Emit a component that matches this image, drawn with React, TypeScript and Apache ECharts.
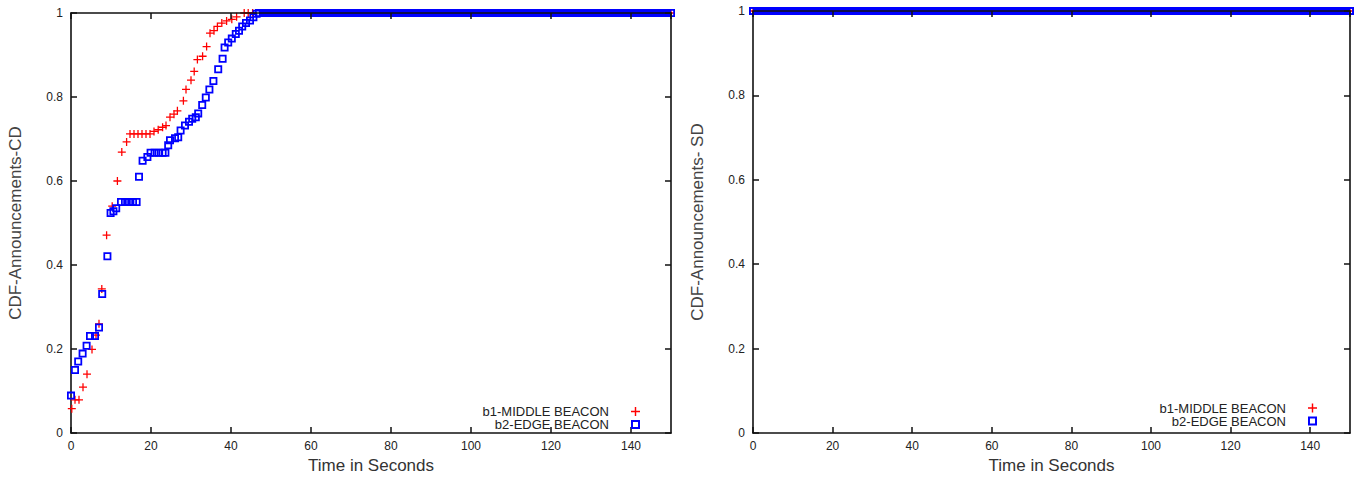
import React, { useEffect, useRef } from "react";
import * as echarts from "echarts";

// ---- tick labels ----
const xTickLabels = ["0", "20", "40", "60", "80", "100", "120", "140"];
const yTickLabels = ["0", "0.2", "0.4", "0.6", "0.8", "1"];

// ---- series names ----
const seriesNames = ["b1-MIDDLE BEACON", "b2-EDGE BEACON"];

// ---- left plot (CD) : b1 middle beacon ----
const cdB1Times = [0.2, 1, 2, 3, 4, 5.25, 6.25, 7, 7.7, 8.9, 10.3, 11.6, 12.7, 13.9, 14.75, 15.75, 16.75, 17.75, 18.75, 19.75, 20.75, 21.8, 22.9, 23.75, 24.75, 25.75, 26.6, 28.1, 28.75, 30, 30.8, 31.6, 32.9, 33.9, 34.75, 35.75, 36.6, 37.7, 38.9, 40.2, 41.4, 43.3, 44.3, 45.4, 150];
const cdB1Values = [0.058, 0.079, 0.079, 0.109, 0.14, 0.199, 0.233, 0.26, 0.343, 0.471, 0.54, 0.6, 0.669, 0.693, 0.712, 0.712, 0.712, 0.712, 0.712, 0.712, 0.718, 0.722, 0.728, 0.732, 0.752, 0.759, 0.767, 0.791, 0.818, 0.84, 0.861, 0.889, 0.897, 0.92, 0.952, 0.958, 0.968, 0.976, 0.981, 0.985, 0.991, 1, 1, 1, 1];

// ---- left plot (CD) : b2 edge beacon ----
const cdB2Times = [0, 1, 1.8, 2.9, 3.9, 4.75, 6, 7, 7.8, 9.1, 9.9, 10.6, 11.3, 12.5, 13.5, 14.5, 15.5, 16.4, 17, 17.9, 19.1, 19.9, 20.9, 21.9, 22.9, 23.6, 24.3, 24.75, 26, 26.8, 27.4, 28.5, 29.5, 30.3, 31.2, 31.8, 32.8, 33.7, 34.6, 35.6, 36.8, 37.9, 38.4, 39.3, 40.2, 41.2, 42, 42.8, 43.75, 44.75, 45.6, 46.4];
const cdB2Values = [0.089, 0.15, 0.17, 0.189, 0.208, 0.231, 0.231, 0.251, 0.331, 0.421, 0.524, 0.528, 0.535, 0.55, 0.55, 0.55, 0.55, 0.55, 0.61, 0.648, 0.657, 0.667, 0.667, 0.667, 0.667, 0.667, 0.685, 0.697, 0.702, 0.704, 0.72, 0.732, 0.741, 0.748, 0.752, 0.761, 0.781, 0.799, 0.818, 0.838, 0.866, 0.891, 0.918, 0.93, 0.939, 0.95, 0.958, 0.968, 0.976, 0.982, 0.99, 0.998];
// dense run of b2 samples at CDF = 1 (squares overlap into a solid band)
const cdB2SaturatedTimes = [47, 150];
const cdB2SaturatedValues = [1, 1];

// ---- right plot (SD) ----
const sdB1Times = [0, 150];
const sdB1Values = [1, 1];
const sdB2Times = [0, 150];
const sdB2Values = [1, 1];
const sdB2SaturatedTimes = [0, 150];
const sdB2SaturatedValues = [1, 1];

const zip = (xs: number[], ys: number[]) => xs.map((x, i) => [x, ys[i]]);

const RED = "#ff0000";
const BLUE = "#0000ff";
const FONT = "Liberation Sans, Arial, sans-serif";
const PLUS = "path://M4.2,0h1.6v4.2h4.2v1.6h-4.2v4.2h-1.6v-4.2h-4.2v-1.6h4.2z";
const SQUARE = "path://M0,0h10v10h-10z M2.2,2.2v5.6h5.6v-5.6z";

const xLabelFmt = (v: number) => {
  const i = Math.round(v / 20);
  return xTickLabels[i] ?? "";
};
const yLabelFmt = (v: number) => {
  const i = Math.round(v / 0.2);
  return yTickLabels[i] ?? "";
};

const axisLine = { show: true, onZero: false, lineStyle: { color: "#111", width: 1.6 } };
const axisTick = { show: true, inside: true, length: 6, lineStyle: { color: "#111", width: 1.5 } };

function makeXAxes(gridIndex: number) {
  return [
    {
      type: "value",
      gridIndex,
      position: "bottom",
      min: 0,
      max: 150,
      interval: 20,
      axisLine,
      axisTick,
      splitLine: { show: false },
      axisLabel: { formatter: xLabelFmt, showMaxLabel: false, color: "#222", fontSize: 12, fontFamily: FONT, margin: 7 },
      name: "Time in Seconds",
      nameLocation: "middle",
      nameGap: 24,
      nameTextStyle: { color: "#333", fontSize: 17, fontFamily: FONT },
    },
    {
      type: "value",
      gridIndex,
      position: "top",
      min: 0,
      max: 150,
      interval: 20,
      z: 5,
      axisLine,
      axisTick,
      splitLine: { show: false },
      axisLabel: { show: false },
    },
  ];
}

function makeYAxes(gridIndex: number, title: string) {
  return [
    {
      type: "value",
      gridIndex,
      position: "left",
      min: 0,
      max: 1,
      interval: 0.2,
      axisLine,
      axisTick,
      splitLine: { show: false },
      axisLabel: { formatter: yLabelFmt, color: "#222", fontSize: 12, fontFamily: FONT, margin: 8 },
      name: title,
      nameLocation: "middle",
      nameGap: 47,
      nameTextStyle: { color: "#444", fontSize: 17, fontFamily: FONT },
    },
    {
      type: "value",
      gridIndex,
      position: "right",
      min: 0,
      max: 1,
      interval: 0.2,
      z: 5,
      axisLine,
      axisTick,
      splitLine: { show: false },
      axisLabel: { show: false },
    },
  ];
}

function makeLegend(right: number, top: number) {
  return {
    orient: "vertical",
    align: "right",
    right,
    top,
    padding: 0,
    itemGap: 0,
    itemWidth: 9,
    itemHeight: 9,
    selectedMode: false,
    textStyle: { color: "#222", fontSize: 13, fontFamily: FONT, lineHeight: 13, padding: [0, 17, 0, 0] },
    data: [
      { name: seriesNames[0], icon: PLUS },
      { name: seriesNames[1], icon: SQUARE },
    ],
  };
}

export default function App() {
  const ref = useRef<HTMLDivElement>(null);
  useEffect(() => {
    if (!ref.current) return;
    const chart = echarts.init(ref.current, undefined, { renderer: "svg" });
    const scatter = (name: string, axis: number, data: number[][], color: string, symbol: string) => ({
      type: "scatter",
      name,
      xAxisIndex: axis,
      yAxisIndex: axis,
      data,
      symbol,
      symbolSize: 8,
      itemStyle: { color, opacity: 1 },
      z: color === RED ? 2 : 3,
    });
    const band = (name: string, axis: number, data: number[][]) => ({
      type: "line",
      name,
      xAxisIndex: axis,
      yAxisIndex: axis,
      data,
      symbol: SQUARE,
      symbolSize: 8,
      showSymbol: true,
      itemStyle: { color: BLUE },
      lineStyle: { color: BLUE, width: 8 },
      z: 3,
    });
    chart.setOption({
      animation: false,
      backgroundColor: "#ffffff",
      grid: [
        { left: 71, top: 13, width: 600, height: 424 },
        { left: 753, top: 11, width: 597, height: 423 },
      ],
      xAxis: [...makeXAxes(0), ...makeXAxes(1)],
      yAxis: [...makeYAxes(0, "CDF-Announcements-CD"), ...makeYAxes(1, "CDF-Announcements- SD")],
      legend: [makeLegend(716, 405), makeLegend(39, 401.5)],
      series: [
        scatter(seriesNames[0], 0, zip(cdB1Times, cdB1Values), RED, PLUS),
        band("b2 run at 1 (CD)", 0, zip(cdB2SaturatedTimes, cdB2SaturatedValues)),
        scatter(seriesNames[1], 0, zip(cdB2Times, cdB2Values), BLUE, SQUARE),
        scatter(seriesNames[0], 2, zip(sdB1Times, sdB1Values), RED, PLUS),
        band("b2 run at 1 (SD)", 2, zip(sdB2SaturatedTimes, sdB2SaturatedValues)),
        scatter(seriesNames[1], 2, zip(sdB2Times, sdB2Values), BLUE, SQUARE),
      ],
    });
    return () => chart.dispose();
  }, []);
  return <div ref={ref} style={{ position: "fixed", left: 0, top: 0, width: 1356, height: 479, background: "#fff" }} />;
}
